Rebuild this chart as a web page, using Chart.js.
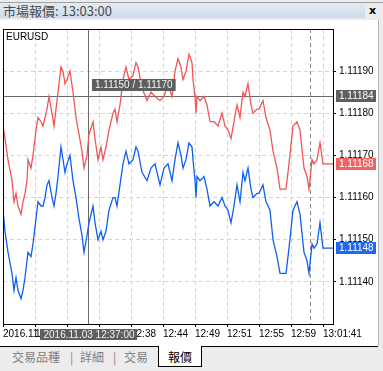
<!DOCTYPE html>
<html>
<head>
<meta charset="utf-8">
<title>市場報價</title>
<script src="https://cdn.jsdelivr.net/npm/chart.js"></script>
<style>
  body { margin:0; width:383px; height:371px; background:#ececec; position:relative; overflow:hidden; font-family:"Noto Sans CJK TC", sans-serif; }
  #topline { position:absolute; left:0; top:2px; width:383px; height:1px; background:#a0a0a0; }
  #titlebar { position:absolute; left:0; top:3px; width:365px; height:15px; background:linear-gradient(#e3ebf4, #ccdaea); color:#4a4a4a; font-size:13px; line-height:15px; padding-left:3px; box-sizing:border-box; white-space:nowrap; }
  #closeBtn { position:absolute; left:369px; top:4px; font:bold 11px "DejaVu Sans"; color:#000; }
  #panel { position:absolute; left:0; top:20px; width:378px; height:326px; background:#fff; border-right:1px solid #b8b8b8; }
  #tabs { position:absolute; left:0; top:346px; width:378px; height:25px; border-top:1px solid #000; }
  .tab { position:absolute; top:2px; font-size:12px; line-height:16px; color:#808080; }
  .sep { position:absolute; top:2px; font-size:12px; line-height:16px; color:#808080; }
  #activeTab { position:absolute; left:158px; top:-1px; width:42px; height:20px; background:#fff; border:1px solid #000; border-top:none; }
  #activeTab span { position:absolute; left:9px; top:3px; font-size:12px; line-height:16px; color:#000; }
</style>
</head>
<body>
<div id="topline"></div>
<div id="titlebar">市場報價: 13:03:00</div>
<div id="closeBtn">x</div>
<div id="panel"><canvas id="myChart" width="378" height="326"></canvas></div>
<div id="tabs">
  <span class="tab" style="left:12px">交易品種</span>
  <span class="sep" style="left:70px">|</span>
  <span class="tab" style="left:80px">詳細</span>
  <span class="sep" style="left:113px">|</span>
  <span class="tab" style="left:124px">交易</span>
  <div id="activeTab"><span>報價</span></div>
</div>

<script>
// tick number of each quote (x axis is a tick chart)
const tickIdx = [0,2,5,9,11,13,15,18,20,22,24,25,28,30,33,35,38,40,42,44,46,49,51,53,55,58,60,62,64,67,
  70,73,76,79,81,84,86,90,92,95,98,100,103,106,110,112,114,117,120,123,126,130,133,135,139,144,148,152,157,161,
  165,169,172,175,178,180,183,186,189,190,192,193,194,197,201,204,207,211,215,219,222,225,228,231,234,237,240,242,245,248,
  250,254,256,260,263,267,270,274,277,283,286,290,294,297,301,304,306,309,311,314,317,320,330];

const askPrices = [1.11177,1.11174,1.11169,1.11164,1.11159,1.11161,1.11158,1.11156,1.11159,1.11161,1.11164,1.11169,1.11167,1.11170,1.11176,1.11179,1.11178,1.11177,1.11179,1.11181,1.11184,1.11180,1.11177,1.11181,1.11185,1.11191,1.11190,1.11187,1.11188,1.11190,
  1.11185,1.11179,1.11175,1.11171,1.11167,1.11170,1.11175,1.11178,1.11174,1.11169,1.11172,1.11169,1.11172,1.11176,1.11180,1.11181,1.11178,1.11182,1.11188,1.11191,1.11188,1.11189,1.11192,1.11191,1.11186,1.11183,1.11185,1.11184,1.11183,1.11184,
  1.11187,1.11184,1.11190,1.11193,1.11191,1.11188,1.11190,1.11194,1.11192,1.11188,1.11184,1.11180,1.11184,1.11183,1.11184,1.11182,1.11178,1.11178,1.11177,1.11180,1.11177,1.11176,1.11174,1.11178,1.11182,1.11179,1.11185,1.11184,1.11187,1.11182,
  1.11180,1.11181,1.11181,1.11183,1.11179,1.11176,1.11171,1.11167,1.11162,1.11162,1.11168,1.11177,1.11178,1.11176,1.11167,1.11165,1.11162,1.11169,1.11168,1.11169,1.11173,1.11168,1.11168];

const bidPrices = [1.11157,1.11152,1.11147,1.11142,1.11138,1.11141,1.11138,1.11136,1.11138,1.11141,1.11145,1.11147,1.11146,1.11149,1.11155,1.11159,1.11158,1.11158,1.11160,1.11163,1.11164,1.11160,1.11158,1.11161,1.11165,1.11172,1.11169,1.11166,1.11168,1.11170,
  1.11164,1.11160,1.11155,1.11151,1.11147,1.11151,1.11154,1.11158,1.11154,1.11150,1.11152,1.11150,1.11152,1.11157,1.11160,1.11160,1.11158,1.11163,1.11168,1.11171,1.11168,1.11169,1.11172,1.11171,1.11166,1.11164,1.11167,1.11168,1.11163,1.11167,
  1.11168,1.11164,1.11169,1.11173,1.11170,1.11167,1.11169,1.11173,1.11172,1.11169,1.11164,1.11160,1.11165,1.11164,1.11165,1.11162,1.11158,1.11159,1.11158,1.11160,1.11158,1.11157,1.11154,1.11158,1.11163,1.11159,1.11166,1.11164,1.11167,1.11162,
  1.11160,1.11161,1.11161,1.11163,1.11159,1.11157,1.11150,1.11146,1.11142,1.11142,1.11148,1.11157,1.11159,1.11156,1.11147,1.11145,1.11142,1.11149,1.11148,1.11149,1.11154,1.11148,1.11148];

const xTickIdx = [0,32,64,96,128,160,192,224,256,288,320];
const xTickLabels = ['2016.11.03 12:31','12:33','12:35','12:36','12:38','12:44','12:49','12:51','12:55','12:59','13:01:41'];
const yTicks = [1.1114,1.1115,1.1116,1.1117,1.1118,1.1119];

const crossTick = 85;          // crosshair position
const crossPrice = 1.11184;
const crossInfo = '1.11150 / 1.11170';
const crossTime = '2016.11.03 12:37:00';
const nowTick = 307;           // dashed marker
const symbol = 'EURUSD';

Chart.defaults.font.family = '"Liberation Sans", Arial, sans-serif';
Chart.defaults.font.size = 10;
Chart.defaults.color = '#000';

function priceTag(ctx, yPx, left, text, bg) {
    ctx.fillStyle = bg;
    ctx.fillRect(left, Math.round(yPx) - 6, 40, 12);
    ctx.fillStyle = '#fff';
    ctx.textAlign = 'left';
    ctx.textBaseline = 'middle';
    ctx.fillText(text, left + 3, Math.round(yPx) + 0.5);
}

const overlay = {
    id: 'overlay',
    beforeDatasetsDraw(chart) {
        const { ctx, chartArea: a, scales: { x, y } } = chart;
        ctx.save();
        // current-time dashed marker
        const nx = Math.round(x.getPixelForValue(nowTick)) + 0.5;
        ctx.strokeStyle = '#8c8c8c';
        ctx.setLineDash([4, 3]);
        ctx.beginPath(); ctx.moveTo(nx, a.top); ctx.lineTo(nx, a.bottom); ctx.stroke();
        ctx.setLineDash([]);
        // crosshair
        const cx = Math.round(x.getPixelForValue(crossTick)) + 0.5;
        const cy = Math.round(y.getPixelForValue(crossPrice)) + 0.5;
        ctx.strokeStyle = '#6a6a6a';
        ctx.beginPath();
        ctx.moveTo(cx, a.top); ctx.lineTo(cx, a.bottom);
        ctx.moveTo(a.left, cy); ctx.lineTo(a.right, cy);
        ctx.stroke();
        ctx.restore();
    },
    afterDraw(chart) {
        const { ctx, chartArea: a, scales: { x, y } } = chart;
        ctx.save();
        ctx.font = '10px "Liberation Sans", Arial, sans-serif';
        // frame
        ctx.strokeStyle = '#000';
        ctx.lineWidth = 1;
        ctx.strokeRect(a.left + 0.5, a.top + 0.5, a.right - a.left, a.bottom - a.top);
        // symbol name
        ctx.fillStyle = '#000';
        ctx.textBaseline = 'middle';
        ctx.fillText(symbol, a.left + 3, a.top + 8);

        const cx = Math.round(x.getPixelForValue(crossTick));
        const cy = Math.round(y.getPixelForValue(crossPrice));
        // crosshair info box
        let w = ctx.measureText(crossInfo).width + 6;
        ctx.fillStyle = '#5e5e5e';
        ctx.fillRect(cx + 4, cy - 17, w, 12);
        ctx.fillStyle = '#f4f4f4';
        ctx.fillText(crossInfo, cx + 7, cy - 10.5);
        // crosshair time box
        w = ctx.measureText(crossTime).width + 6;
        ctx.fillStyle = '#5e5e5e';
        ctx.fillRect(Math.round(cx + 1 - w / 2), a.bottom + 5, w, 11);
        ctx.fillStyle = '#f4f4f4';
        ctx.textAlign = 'center';
        ctx.fillText(crossTime, cx + 1, a.bottom + 11);

        // price tags on the right axis
        const tagLeft = a.right + 3;
        priceTag(ctx, y.getPixelForValue(crossPrice), tagLeft, crossPrice.toFixed(5), '#5e5e5e');
        const lastAsk = askPrices[askPrices.length - 1];
        const lastBid = bidPrices[bidPrices.length - 1];
        priceTag(ctx, y.getPixelForValue(lastAsk), tagLeft, lastAsk.toFixed(5), '#f26464');
        priceTag(ctx, y.getPixelForValue(lastBid), tagLeft, lastBid.toFixed(5), '#1f69f0');
        ctx.restore();
    }
};

const ctx = document.getElementById('myChart').getContext('2d');
const myChart = new Chart(ctx, {
    type: 'line',
    data: {
        datasets: [
            {
                label: 'Ask',
                data: tickIdx.map((t, i) => ({ x: t, y: askPrices[i] })),
                borderColor: '#f25656',
                borderWidth: 1.3,
                pointRadius: 0,
                tension: 0,
            },
            {
                label: 'Bid',
                data: tickIdx.map((t, i) => ({ x: t, y: bidPrices[i] })),
                borderColor: '#0f5ff0',
                borderWidth: 1.3,
                pointRadius: 0,
                tension: 0,
            },
        ],
    },
    options: {
        responsive: false,
        animation: false,
        devicePixelRatio: 1,
        layout: { padding: { left: 3, top: 2, right: 0, bottom: 0 } },
        plugins: { legend: { display: false }, tooltip: { enabled: false } },
        scales: {
            x: {
                type: 'linear',
                min: 0,
                max: 330,
                afterBuildTicks: s => { s.ticks = xTickIdx.map(v => ({ value: v })); },
                afterFit: s => { s.height = 22; },
                grid: { color: '#d4d4d4', tickColor: '#000', tickLength: 3, tickBorderDash: [] },
                border: { display: false, dash: [4, 3] },
                ticks: {
                    autoSkip: false,
                    maxRotation: 0,
                    minRotation: 0,
                    align: 'start',
                    padding: 1,
                    callback: (v, i) => xTickLabels[i],
                },
            },
            y: {
                position: 'right',
                min: 1.1113,
                max: 1.1120,
                afterBuildTicks: s => { s.ticks = yTicks.map(v => ({ value: v })); },
                afterFit: s => { s.width = 45; },
                grid: { color: '#d4d4d4', tickColor: '#000', tickLength: 3, tickBorderDash: [] },
                border: { display: false, dash: [4, 3] },
                ticks: {
                    padding: 3,
                    crossAlign: 'near',
                    callback: v => v.toFixed(5),
                },
            },
        },
    },
    plugins: [overlay],
});
</script>
</body>
</html>
